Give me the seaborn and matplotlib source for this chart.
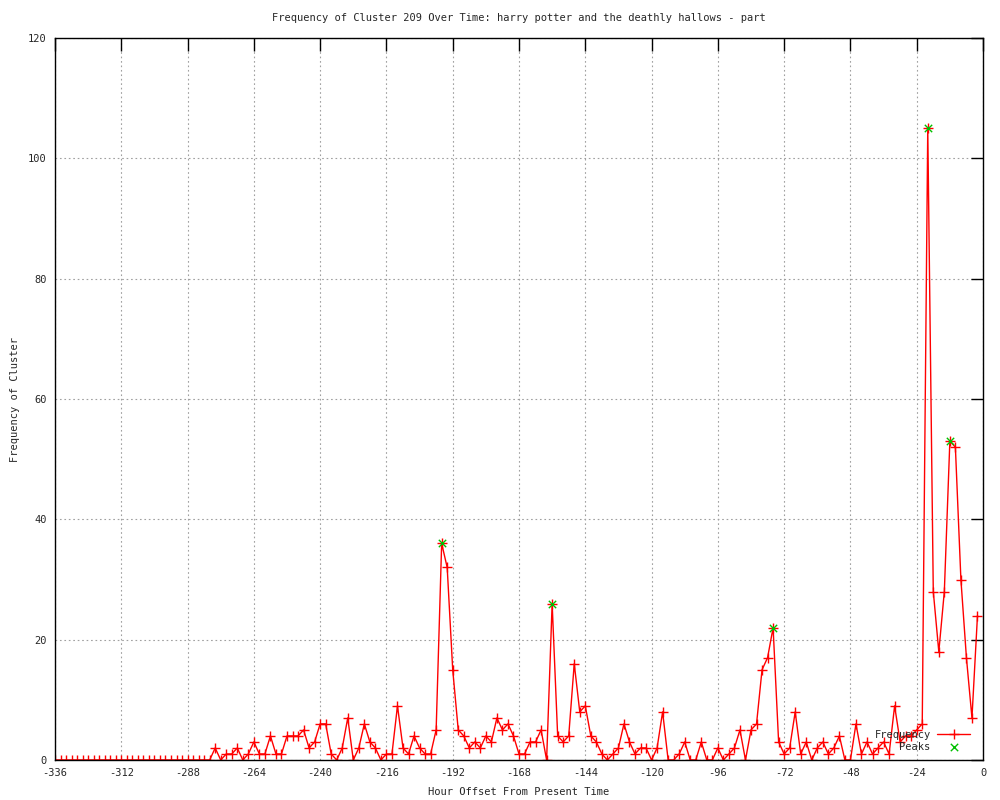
import numpy as np
import pandas as pd
import matplotlib
matplotlib.use("Agg")
import matplotlib.pyplot as plt
import seaborn as sns

# --- data (2-hour bins, hours before present) ---
hours = list(range(-336, 0, 2))
frequency = [
    0, 0, 0, 0, 0, 0, 0, 0, 0, 0, 0, 0, 0, 0, 0, 0, 0, 0, 0, 0,
    0, 0, 0, 0, 0, 0, 0, 0, 0,                      # -336 .. -280
    2, 0, 1, 1, 2, 0, 1, 3, 1, 1, 4, 1, 1, 4, 4, 4, 5, 2, 3, 6,   # -278 .. -240
    6, 1, 0, 2, 7, 0, 2, 6, 3, 2, 0, 1, 1, 9, 2, 1, 4, 2, 1, 1,   # -238 .. -200
    5, 36, 32, 15, 5, 4, 2, 3, 2, 4, 3, 7, 5, 6, 4, 1, 1, 3, 3, 5,  # -198 .. -160
    0, 26, 4, 3, 4, 16, 8, 9, 4, 3, 1, 0, 1, 2, 6, 3, 1, 2, 2, 0,  # -158 .. -120
    2, 8, 0, 0, 1, 3, 0, 0, 3, 0, 0, 2, 0, 1, 2, 5, 0, 5, 6, 15,   # -118 .. -80
    17, 22, 3, 1, 2, 8, 1, 3, 0, 2, 3, 1, 2, 4, 0, 0, 6, 1, 3, 1,  # -78 .. -40
    2, 3, 1, 9, 3, 4, 4, 5, 6, 105, 28, 18, 28, 53, 52, 30, 17, 7, 24,  # -38 .. -2
]
peak_hours = [-196, -156, -76, -20, -12]
peak_values = [36, 26, 22, 105, 53]

x_ticks = list(range(-336, 1, 24))
y_ticks = list(range(0, 121, 20))

TITLE = "Frequency of Cluster 209 Over Time: harry potter and the deathly hallows - part"

df = pd.DataFrame({"hour": hours, "freq": frequency})
peaks = pd.DataFrame({"hour": peak_hours, "freq": peak_values})

sns.set_theme(style="white")
plt.rcParams["font.family"] = ["DejaVu Sans Mono"]
plt.rcParams["font.size"] = 7.5
plt.rcParams["axes.unicode_minus"] = False   # plain hyphen like gnuplot

fig = plt.figure(figsize=(10, 8), dpi=100)
ax = fig.add_axes([0.055, 0.05, 0.928, 0.9025])

sns.lineplot(data=df, x="hour", y="freq", ax=ax, color="#ff0000", linewidth=1,
             marker="+", markersize=6.5, markeredgewidth=1, markeredgecolor="#ff0000",
             label="Frequency")
sns.scatterplot(data=peaks, x="hour", y="freq", ax=ax, color="#00c000", marker="x",
                s=28, linewidth=1, zorder=3, label="Peaks")

ax.set_xlim(-336, 0)
ax.set_ylim(0, 120)
ax.set_xticks(x_ticks)
ax.set_yticks(y_ticks)

# gnuplot-ish frame: inward mirrored ticks + dotted grid
ax.grid(True, color="#a0a0a0", linestyle=(0, (1.5, 2.5)), linewidth=0.8)
ax.tick_params(direction="in", length=9, width=1, color="black",
               top=True, right=True, labelsize=7.5, pad=6)
for sp in ax.spines.values():
    sp.set_visible(True)
    sp.set_color("black")
    sp.set_linewidth(1)

ax.set_title(TITLE, fontsize=7.5, pad=12)
ax.set_xlabel("Hour Offset From Present Time", fontsize=7.5, labelpad=6)
ax.set_ylabel("Frequency of Cluster", fontsize=7.5, labelpad=6)

leg = ax.legend(loc="lower right", bbox_to_anchor=(0.993, 0.003), frameon=False,
                markerfirst=False, fontsize=7.5, handlelength=3.2,
                handletextpad=0.6, labelspacing=0.2, borderaxespad=0.2)

fig.savefig("out.png", dpi=100)
